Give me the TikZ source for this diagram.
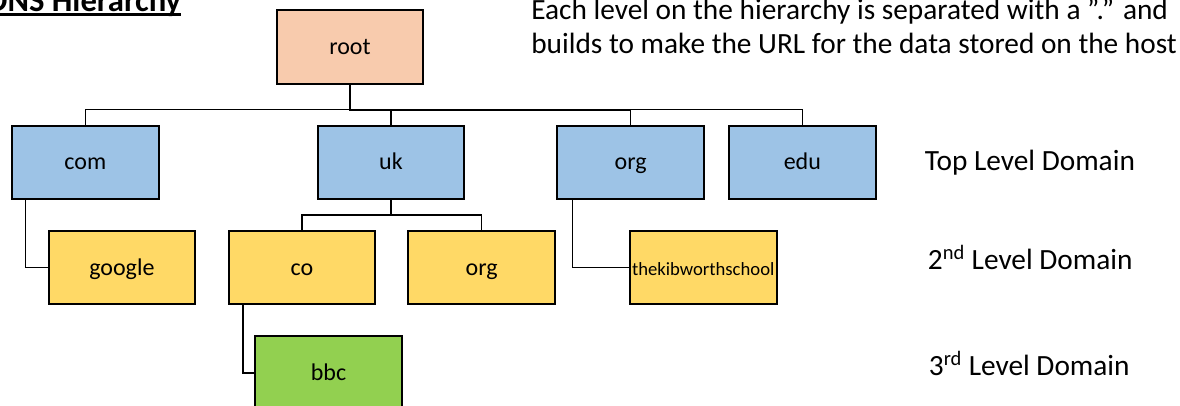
\documentclass[tikz,border=0pt]{standalone}
\usepackage{fontspec}
\setmainfont{Carlito}
\usepackage{tikz}
\usetikzlibrary{positioning}
\definecolor{peach}{RGB}{248, 203, 173}
\definecolor{tldblue}{RGB}{157, 195, 230}
\definecolor{sldyellow}{RGB}{255, 217, 102}
\definecolor{thdgreen}{RGB}{146, 208, 80}
\tikzstyle{dom} = [rectangle, draw=black, line width=1.5pt, text=black, text centered, font=\fontsize{18}{22}\selectfont, text height=15pt, text depth=3.75pt, minimum width=110pt, minimum height=55pt, inner sep=0pt]
\tikzstyle{textonly} = [draw=none, fill=none, inner sep=0pt, font=\fontsize{22}{27}\selectfont]
\tikzstyle{tline}  = [draw, line width=0.9pt]
\tikzstyle{tbold}  = [draw, line width=1.5pt]

\begin{document}
\begin{tikzpicture}[auto]
\useasboundingbox (0,0) rectangle (885pt,-304.5pt);

% domains =============================
\node[dom, fill=peach] (root) at (262.5pt,-35.25pt) {root};
\node[dom, fill=tldblue, below=30pt of root, xshift=30.75pt] (uk) {uk};
\node[dom, fill=tldblue, left=117.75pt of uk] (com) {com};
\node[dom, fill=tldblue, right=68.25pt of uk] (org) {org};
\node[dom, fill=tldblue, right=17.25pt of org] (edu) {edu};

\node[dom, fill=sldyellow, below=22.5pt of com, xshift=27.4pt] (google) {google};
\node[dom, fill=sldyellow, below=22.5pt of uk, xshift=-66.75pt] (co) {co};
\node[dom, fill=sldyellow, right=23.25pt of co] (org2) {org};
\node[dom, fill=sldyellow, below=22.5pt of org, xshift=54.4pt, font=\fontsize{14}{17}\selectfont] (thekib) {thekibworthschool};

\node[dom, fill=thdgreen, below=22.5pt of co, xshift=19.9pt] (bbc) {bbc};

% text ================================
\node[textonly, anchor=base west, font=\bfseries\fontsize{24.5}{29}\selectfont] (title) at (-10pt,-9pt) {DNS Hierarchy};
\node[textonly, anchor=base west] (desc1) at (398.25pt,-15pt) {Each level on the hierarchy is separated with a ”.” and};
\node[textonly, anchor=base west] (desc2) at ([yshift=-25.5pt]desc1.base west) {builds to make the URL for the data stored on the host};

\node[textonly, right=36pt of edu] (toplvl) {Top Level Domain};
\node[textonly, anchor=west] (sndlvl) at ([xshift=2.25pt, yshift=8pt]toplvl.west |- thekib) {2\textsuperscript{nd} Level Domain};
\node[textonly, anchor=west] (thdlvl) at ([xshift=3pt, yshift=7.5pt]toplvl.west |- bbc) {3\textsuperscript{rd} Level Domain};

% edges
\draw[line width=2pt] ([yshift=-2pt]title.base west) -- ([yshift=-2pt]title.base east);

\coordinate (bus) at ([yshift=11.25pt]com.north);
\draw[tline] (com.north) -- (bus) -| (edu.north);
\draw[tline] (uk.north) -- (uk.north |- bus);
\draw[tline] (org.north) -- (org.north |- bus);
\draw[tbold] (root.south) -- (root.south |- bus) -- (org.north |- bus);

\coordinate (ukbus) at ([yshift=11.25pt]co.north);
\draw[tline] (uk.south) -- (uk.south |- ukbus);
\draw[tline] (co.north) -- (ukbus) -| (org2.north);

\draw[tline] ([xshift=-45pt]com.south) |- (google.west);
\draw[tline] ([xshift=-44.25pt]co.south) |- (bbc.west);
\draw[tline] ([xshift=-43.9pt]org.south) |- (thekib.west);

\end{tikzpicture}
\end{document}
